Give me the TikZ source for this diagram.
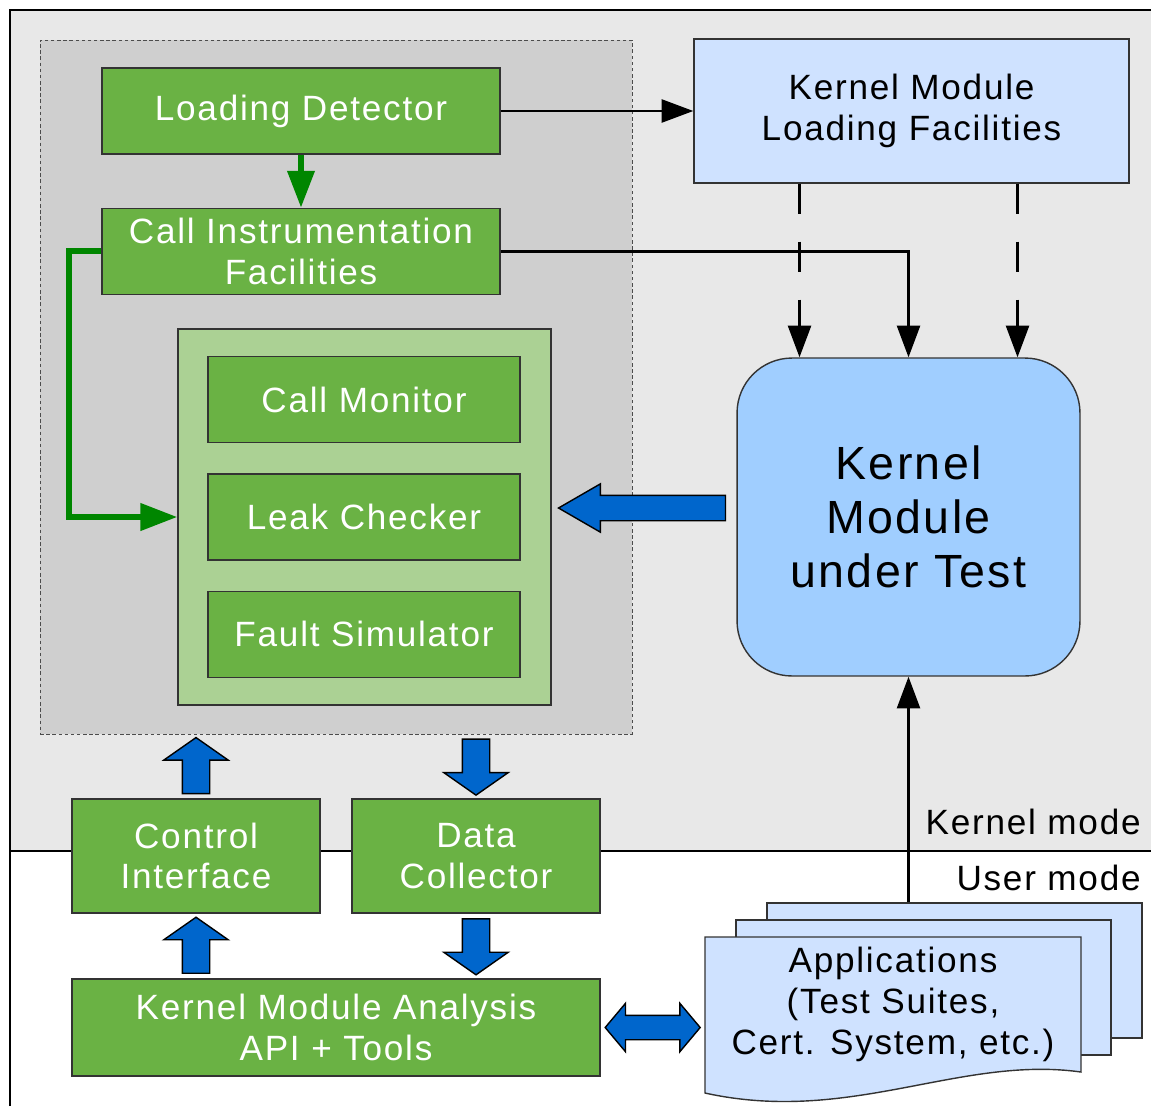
\documentclass[tikz,border=0pt]{standalone}
\usepackage{fontspec}
\setmainfont{Liberation Sans}[LetterSpace=5]
\usetikzlibrary{arrows.meta,calc,positioning,shapes.arrows}

\definecolor{kgreen}{RGB}{106,178,68}
\definecolor{klightgreen}{RGB}{171,209,148}
\definecolor{kdarkgreen}{RGB}{0,134,0}
\definecolor{klightblue}{RGB}{207,226,255}
\definecolor{kblue}{RGB}{160,206,255}
\definecolor{karrowblue}{RGB}{0,102,204}
\definecolor{kbackgray}{RGB}{232,232,232}
\definecolor{kprobegray}{RGB}{207,207,207}

\tikzset{
  comp/.style={draw=black!80,line width=0.8pt,fill=kgreen,text=white,inner sep=0pt,align=center},
  facility/.style={comp,fill=klightblue,text=black},
  sheet/.style={draw=black!80,line width=0.8pt,fill=klightblue,minimum width=7.5cm,minimum height=2.7cm,inner sep=0pt},
  flow/.style={line width=1.6pt,-{Triangle[length=18pt,width=13pt]}},
  loadflow/.style={flow,dash pattern=on 17pt off 16pt},
  ctrlflow/.style={kdarkgreen,line width=3.4pt,-{Triangle[length=21pt,width=15pt]}},
  fat/.style={single arrow,draw=black,line width=0.8pt,fill=karrowblue,inner sep=0pt,
    minimum width=0pt,single arrow head indent=0pt},
  fatvert/.style={fat,minimum height=1.12cm,inner ysep=0.26cm,
    single arrow head extend=0.37cm,single arrow tip angle=110},
  fatboth/.style={double arrow,draw=black,line width=0.8pt,fill=karrowblue,inner sep=0pt,
    minimum width=0pt,inner ysep=0.23cm,double arrow head extend=0.24cm,
    double arrow tip angle=100,double arrow head indent=0pt},
  modelabel/.style={anchor=east,inner sep=0pt}
}

\begin{document}
\begin{tikzpicture}[x=0.02cm,y=-0.02cm,font=\fontsize{20}{23.2}\selectfont]
  \useasboundingbox (0,0) rectangle (1151,1106);
  % kernel side backdrop
  \fill[kbackgray] (10,10) rectangle (1151,851);
  \draw[line width=0.8pt] (10,1106) -- (10,10) -- (1151,10);
  \draw[line width=0.8pt] (10,851) -- (1151,851);
  \node[modelabel] (kmode) at (1141,822) {Kernel mode};
  \node[modelabel] (umode) at (1141,878) {User mode};

  % test framework inside the kernel
  \node[draw=black!70,line width=0.5pt,dash pattern=on 2pt off 1.5pt,fill=kprobegray,
        minimum width=11.84cm,minimum height=13.88cm] (probe) at (336,387) {};
  \node[comp,minimum width=7.96cm,minimum height=1.72cm] (detector) at (301,111) {Loading Detector};
  \node[comp,minimum width=7.96cm,minimum height=1.72cm] (instr) [below=1.06cm of detector]
        {Call Instrumentation\\Facilities};
  \node[comp,fill=klightgreen,minimum width=7.46cm,minimum height=7.52cm] (core) at (364.5,517) {};
  \node[comp,minimum width=6.24cm,minimum height=1.72cm] (leak) at (364,517) {Leak Checker};
  \node[comp,minimum width=6.24cm,minimum height=1.72cm] (monitor) [above=0.6cm of leak] {Call Monitor};
  \node[comp,minimum width=6.24cm,minimum height=1.72cm] (fault) [below=0.6cm of leak] {Fault Simulator};

  \node[facility,minimum width=8.7cm,minimum height=2.88cm] (loadfac) at (911.5,111)
        {Kernel Module\\Loading Facilities};
  \node[facility,fill=kblue,rounded corners=1.1cm,minimum width=6.86cm,minimum height=6.36cm,
        font=\fontsize{26.5}{30.6}\selectfont] (kmut) at (908.5,517) {Kernel\\Module\\under Test};

  % user side
  \node[comp,minimum width=4.96cm,minimum height=2.28cm] (ctrl) at (196,856) {Control\\Interface};
  \node[comp,minimum width=4.96cm,minimum height=2.28cm] (collector) at (476,856) {Data\\Collector};
  \node[comp,minimum width=10.56cm,minimum height=1.94cm] (api) at (336,1027.5)
        {Kernel Module Analysis\\API + Tools};

  \node[sheet] (apps3) at (954.5,970.5) {};
  \node[sheet] (apps2) at (923.5,987.5) {};
  \filldraw[draw=black!80,line width=0.8pt,fill=klightblue] (705,937) -- (1081,937) -- (1081,1072)
        .. controls (960,1055) and (850,1125) .. (705,1093) -- cycle;
  \node[align=center,inner sep=0pt,minimum width=7.52cm,minimum height=2.7cm] (apps) at (893,1004.5)
        {Applications\\(Test Suites,\\Cert. System, etc.)};

  % connectors
  \draw[flow] (detector) -- (loadfac);
  \draw[ctrlflow] (detector) -- (instr);
  \draw[flow] (instr.east) -| (kmut.north);
  \coordinate (dl) at ($(kmut.north)+(-109,0)$);
  \coordinate (dr) at ($(kmut.north)+(109,0)$);
  \draw[loadflow] (loadfac.south -| dl) -- (dl);
  \draw[loadflow] (loadfac.south -| dr) -- (dr);
  \draw[ctrlflow] (instr.west) -- ++(-32,0) |- (core.west);
  \draw[flow] (apps3.north -| kmut.south) -- (kmut.south);

  \node[fat,rotate=180,minimum height=3.34cm,inner ysep=0.24cm,single arrow head extend=0.23cm,
        single arrow tip angle=60] (report) at ($($(core.east)!0.5!(kmut.west)$)+(9,-9)$) {};
  \node[fatvert,rotate=90] (ctrlup) at ($($(ctrl.north)!0.5!(ctrl.north |- probe.south)$)+(0,4)$) {};
  \node[fatvert,rotate=-90] (datadown) at ($($(collector.north)!0.5!(collector.north |- probe.south)$)+(0,-4)$) {};
  \node[fatvert,rotate=90] (apiup) at ($($(ctrl.south)!0.5!(ctrl.south |- api.north)$)+(0,4)$) {};
  \node[fatvert,rotate=-90] (apidown) at ($($(collector.south)!0.5!(collector.south |- api.north)$)+(0,-4)$) {};
  \node[fatboth,minimum height=1.9cm] (appslink) at ($(api.east)!0.5!(apps.west |- api.east)$) {};
\end{tikzpicture}
\end{document}
